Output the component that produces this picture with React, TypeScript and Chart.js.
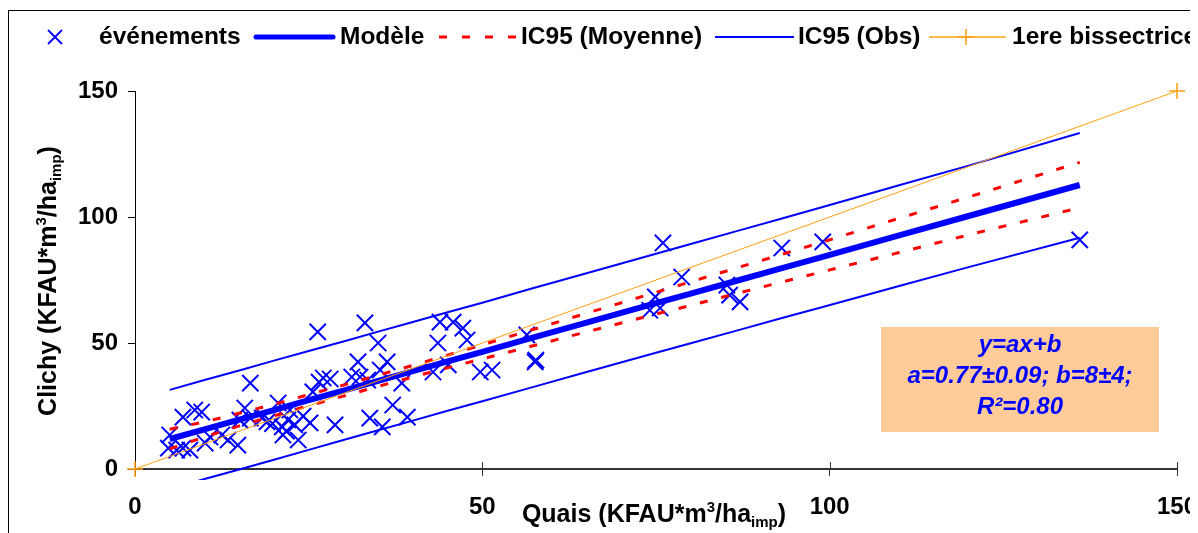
import { useEffect, useRef } from 'react';
import { Chart, registerables } from 'chart.js';

Chart.register(...registerables);

// Scatter "événements"
const eventX = [4.8, 5.0, 6.0, 6.9, 6.9, 7.9, 8.6, 9.6, 10.1, 10.8, 12.5, 13.4, 14.8, 15.1, 15.8, 16.6, 16.6, 18.3, 19.0, 19.8, 20.6, 21.2, 21.3, 22.0, 21.8, 22.3, 23.0, 23.5, 24.2, 25.2, 25.6, 26.3, 27.1, 28.1, 26.5, 28.8, 31.2, 32.1, 32.4, 33.1, 33.5, 33.8, 35.0, 35.3, 35.6, 36.3, 37.1, 38.4, 39.2, 42.9, 43.6, 43.9, 45.1, 45.8, 47.2, 47.8, 49.7, 51.4, 56.4, 57.6, 57.7, 74.1, 74.9, 75.6, 76.0, 78.7, 85.2, 85.6, 87.1, 93.1, 99.0, 136.0];
const eventY = [8.3, 13.5, 7.5, 8.3, 20.6, 7.5, 23.4, 22.6, 10.3, 12.7, 13.5, 11.5, 9.5, 19.4, 24.2, 34.1, 20.2, 20.2, 18.7, 18.0, 26.2, 16.7, 13.5, 19.5, 15.0, 23.4, 17.5, 11.5, 21.0, 18.3, 30.6, 54.4, 36.1, 35.7, 34.5, 17.5, 36.5, 42.5, 36.5, 58.0, 35.3, 20.2, 50.0, 39.3, 16.7, 42.5, 25.4, 34.1, 20.6, 38.5, 50.0, 58.3, 41.3, 58.3, 55.9, 51.2, 38.5, 39.3, 53.2, 42.5, 43.2, 63.0, 68.3, 63.9, 89.7, 76.2, 73.0, 69.0, 66.3, 87.7, 90.1, 90.9];

// Lines (model and confidence intervals)
const lineX = [5, 10, 15, 20, 25, 30, 35, 40, 45, 50, 57, 65, 75, 80, 87, 93, 99, 110, 120, 136];
const modelY = [11.9, 15.7, 19.6, 23.4, 27.3, 31.1, 35.0, 38.8, 42.7, 46.5, 51.9, 58.1, 65.8, 69.6, 75.0, 79.6, 84.2, 92.7, 100.4, 112.7];
const icMoyHigh = [15.8, 18.7, 22.1, 25.7, 29.5, 33.3, 37.2, 41.1, 45.2, 49.3, 55.1, 61.8, 70.1, 74.3, 80.1, 85.1, 90.1, 99.5, 107.9, 121.7];
const icMoyLow = [8.0, 12.7, 17.1, 21.1, 25.1, 28.9, 32.8, 36.5, 40.2, 43.7, 48.7, 54.4, 61.5, 64.9, 69.9, 74.1, 78.3, 85.9, 92.9, 103.7];
const icObsHigh = [31.4, 35.3, 39.1, 43.0, 46.8, 50.6, 54.5, 58.3, 62.2, 66.0, 71.5, 77.7, 85.4, 89.3, 94.7, 99.3, 104.0, 112.6, 120.4, 133.3];
const icObsLow = [-7.9, -4.0, -0.2, 3.7, 7.6, 11.5, 15.4, 19.2, 23.1, 26.9, 32.3, 38.5, 46.1, 49.9, 55.2, 59.8, 64.3, 72.6, 80.1, 91.8];
const bisX = [0, 150];
const bisY = [0, 150];

const xTicks = [0, 50, 100, 150];
const yTicks = [0, 50, 100, 150];

const seriesNames = ['événements', 'Modèle', 'IC95 (Moyenne)', 'IC95 (Obs)', '1ere bissectrice'];
const annotationLines = ['y=ax+b', 'a=0.77±0.09; b=8±4;', 'R²=0.80'];

const FONT = '"Liberation Sans", Arial, sans-serif';
const BLUE = '#0000FF';
const RED = '#FF0000';
const ORANGE = '#FFA010';

const pts = (xs: number[], ys: number[]) => xs.map((x, i) => ({ x, y: ys[i] }));

const drawTitle = (ctx: CanvasRenderingContext2D, parts: [string, number, number][]) => {
  let w = 0;
  for (const [t, s] of parts) {
    ctx.font = `bold ${s}px ${FONT}`;
    w += ctx.measureText(t).width;
  }
  let x = -w / 2;
  for (const [t, s, dy] of parts) {
    ctx.font = `bold ${s}px ${FONT}`;
    ctx.fillText(t, x, dy);
    x += ctx.measureText(t).width;
  }
};

const decorPlugin = {
  id: 'decor',
  afterDraw(chart: any) {
    const ctx: CanvasRenderingContext2D = chart.ctx;
    const area = chart.chartArea;
    const xs = chart.scales.x;
    ctx.save();
    // outer frame
    ctx.strokeStyle = '#000';
    ctx.lineWidth = 1;
    ctx.strokeRect(0.5, 2.5, 1188, 700);

    // inside x ticks
    ctx.strokeStyle = '#333';
    ctx.lineWidth = 1;
    for (const v of xTicks) {
      if (v === 0) continue;
      const px = Math.round(xs.getPixelForValue(v)) + 0.5;
      ctx.beginPath();
      ctx.moveTo(px, area.bottom - 7);
      ctx.lineTo(px, area.bottom);
      ctx.stroke();
    }

    // legend
    const ly = 29;
    ctx.textBaseline = 'middle';
    ctx.textAlign = 'left';
    ctx.fillStyle = '#000';
    ctx.font = `bold 24.5px ${FONT}`;
    ctx.strokeStyle = BLUE;
    ctx.lineWidth = 1.8;
    ctx.beginPath();
    ctx.moveTo(47 - 7, ly - 7); ctx.lineTo(47 + 7, ly + 7);
    ctx.moveTo(47 - 7, ly + 7); ctx.lineTo(47 + 7, ly - 7);
    ctx.stroke();
    ctx.fillText(seriesNames[0], 91, ly);
    ctx.lineWidth = 5;
    ctx.lineCap = 'round';
    ctx.beginPath(); ctx.moveTo(248, ly); ctx.lineTo(325, ly); ctx.stroke();
    ctx.lineCap = 'butt';
    ctx.fillText(seriesNames[1], 332, ly);
    ctx.strokeStyle = RED;
    ctx.lineWidth = 3;
    ctx.setLineDash([8, 15]);
    ctx.beginPath(); ctx.moveTo(431, ly); ctx.lineTo(508, ly); ctx.stroke();
    ctx.setLineDash([]);
    ctx.fillText(seriesNames[2], 513, ly);
    ctx.strokeStyle = BLUE;
    ctx.lineWidth = 2;
    ctx.beginPath(); ctx.moveTo(707, ly); ctx.lineTo(786, ly); ctx.stroke();
    ctx.fillText(seriesNames[3], 790, ly);
    ctx.strokeStyle = ORANGE;
    ctx.lineWidth = 1.5;
    ctx.beginPath(); ctx.moveTo(921, ly); ctx.lineTo(998, ly); ctx.stroke();
    ctx.beginPath(); ctx.moveTo(958, ly - 8); ctx.lineTo(958, ly + 8); ctx.moveTo(950, ly); ctx.lineTo(966, ly); ctx.stroke();
    ctx.fillText(seriesNames[4], 1004, ly);

    // axis titles
    ctx.fillStyle = '#000';
    ctx.textBaseline = 'alphabetic';
    ctx.textAlign = 'left';
    ctx.save();
    ctx.translate(48, 273);
    ctx.rotate(-Math.PI / 2);
    drawTitle(ctx, [['Clichy (KFAU*m', 25, 0], ['3', 15, -10], ['/ha', 25, 0], ['imp', 15, 5], [')', 25, 0]]);
    ctx.restore();
    ctx.save();
    ctx.translate(646, 514);
    drawTitle(ctx, [['Quais (KFAU*m', 25, 0], ['3', 15, -10], ['/ha', 25, 0], ['imp', 15, 5], [')', 25, 0]]);
    ctx.restore();

    // annotation box
    ctx.fillStyle = '#FFCC99';
    ctx.fillRect(873, 319, 278, 105);
    ctx.fillStyle = BLUE;
    ctx.font = `italic bold 24px ${FONT}`;
    ctx.textAlign = 'center';
    ctx.textBaseline = 'middle';
    const ys = [337, 368, 399];
    annotationLines.forEach((t, i) => ctx.fillText(t, 1012, ys[i]));
    ctx.restore();
  },
};

export default function App() {
  const ref = useRef<HTMLCanvasElement | null>(null);
  useEffect(() => {
    if (!ref.current) return;
    const chart = new Chart(ref.current, {
      type: 'scatter',
      data: {
        datasets: [
          {
            label: seriesNames[4],
            type: 'line',
            data: pts(bisX, bisY),
            borderColor: ORANGE,
            borderWidth: 1,
            pointStyle: 'cross',
            pointRadius: 8,
            pointBorderWidth: 1.5,
            pointBorderColor: ORANGE,
            pointBackgroundColor: ORANGE,
            showLine: true,
            clip: false,
            order: 1,
          },
          {
            label: seriesNames[3],
            type: 'line',
            data: pts(lineX, icObsHigh),
            borderColor: BLUE,
            borderWidth: 2,
            pointRadius: 0,
            tension: 0,
            order: 2,
          },
          {
            label: seriesNames[3] + ' bas',
            type: 'line',
            data: pts(lineX, icObsLow),
            borderColor: BLUE,
            borderWidth: 2,
            pointRadius: 0,
            tension: 0,
            clip: { left: 0, top: 0, right: 0, bottom: 11 } as any,
            order: 2,
          },
          {
            label: seriesNames[2],
            type: 'line',
            data: pts(lineX, icMoyHigh),
            borderColor: RED,
            borderWidth: 3,
            borderDash: [8, 14],
            pointRadius: 0,
            tension: 0,
            order: 3,
          },
          {
            label: seriesNames[2] + ' bas',
            type: 'line',
            data: pts(lineX, icMoyLow),
            borderColor: RED,
            borderWidth: 3,
            borderDash: [8, 14],
            pointRadius: 0,
            tension: 0,
            order: 3,
          },
          {
            label: seriesNames[1],
            type: 'line',
            data: pts(lineX, modelY),
            borderColor: BLUE,
            borderWidth: 6,
            pointRadius: 0,
            tension: 0,
            order: 4,
          },
          {
            label: seriesNames[0],
            data: pts(eventX, eventY),
            pointStyle: 'crossRot',
            pointRadius: 11.5,
            pointBorderWidth: 2,
            pointBorderColor: BLUE,
            pointBackgroundColor: BLUE,
            showLine: false,
            order: 5,
          },
        ],
      },
      options: {
        animation: false,
        responsive: false,
        devicePixelRatio: 1,
        layout: { padding: { top: 83, right: 21, left: 0, bottom: 0 } },
        plugins: {
          legend: { display: false },
          tooltip: { enabled: false },
          title: { display: false },
        },
        scales: {
          x: {
            type: 'linear',
            min: 0,
            max: 150,
            afterFit: (s: any) => { s.height = 64; s.paddingLeft = 0; s.paddingRight = 0; },
            afterBuildTicks: (s: any) => { s.ticks = xTicks.map((v) => ({ value: v })); },
            border: { color: '#333', width: 2 },
            grid: { drawOnChartArea: false, drawTicks: true, tickLength: 7, color: '#333' },
            ticks: {
              color: '#000',
              font: { family: FONT, size: 24, weight: 'bold' },
              padding: 17,
              maxRotation: 0,
              autoSkip: false,
            },
          },
          y: {
            type: 'linear',
            min: 0,
            max: 150,
            afterFit: (s: any) => { s.width = 127; s.paddingTop = 0; s.paddingBottom = 0; },
            afterBuildTicks: (s: any) => { s.ticks = yTicks.map((v) => ({ value: v })); },
            border: { color: '#000', width: 1 },
            grid: { drawOnChartArea: false, drawTicks: true, tickLength: 7, color: '#000' },
            ticks: {
              color: '#000',
              font: { family: FONT, size: 24, weight: 'bold' },
              padding: 10,
              autoSkip: false,
            },
          },
        },
      } as any,
      plugins: [decorPlugin],
    });
    return () => chart.destroy();
  }, []);
  return (
    <div style={{ width: 1190, height: 525 }}>
      <canvas ref={ref} width={1190} height={525} style={{ display: 'block', width: 1190, height: 525 }} />
    </div>
  );
}
